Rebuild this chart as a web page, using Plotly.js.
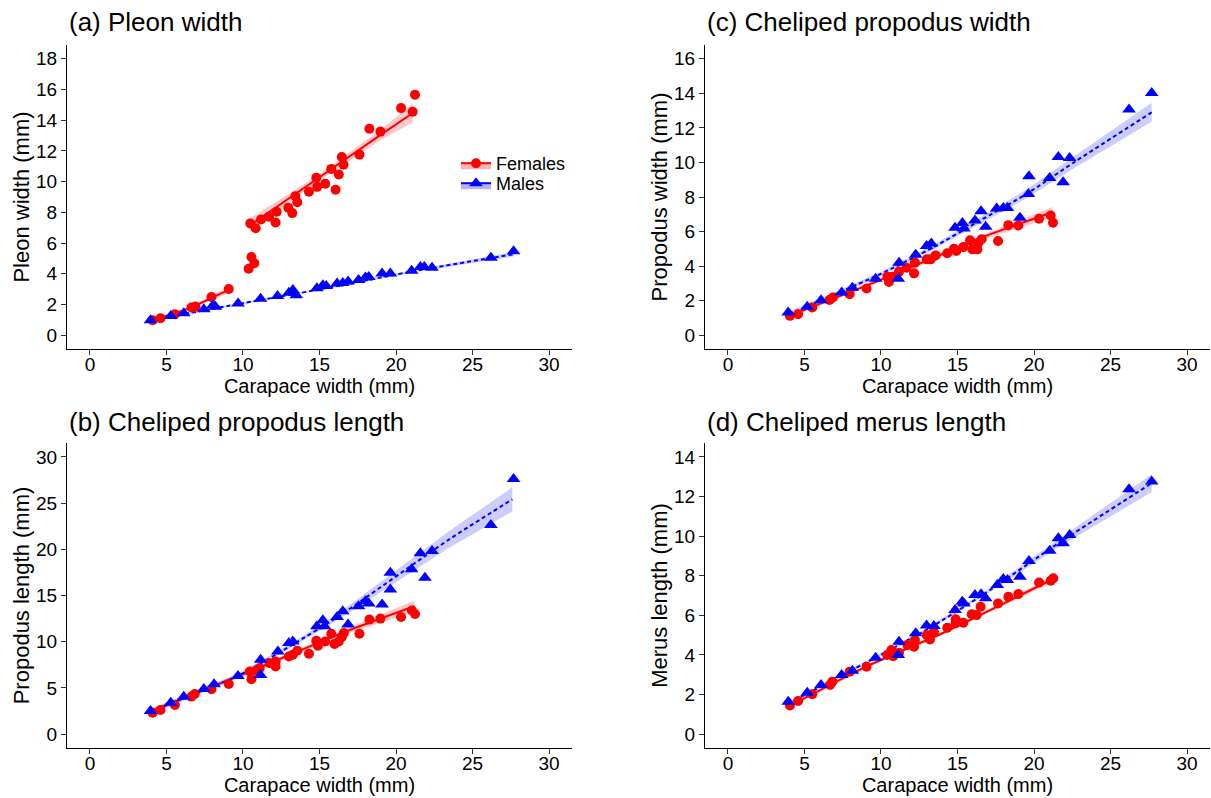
<!DOCTYPE html>
<html>
<head>
<meta charset="utf-8">
<script src="https://cdn.plot.ly/plotly-3.0.1.min.js"></script>
<style>html,body{margin:0;padding:0;background:#fff;}#chart{width:1211px;height:798px;}</style>
</head>
<body>
<div id="chart"></div>
<script>
// ---------- Panel (a) Pleon width ----------
const aFemX = [4.09,4.61,5.55,6.63,6.89,7.94,9.07,10.37,10.55,10.74,10.48,10.83,11.18,11.7,12.13,12.2,12.96,13.22,13.42,13.55,14.31,14.79,14.85,15.37,15.77,16.05,16.26,16.46,16.57,17.61,18.26,18.98,20.33,21.09,21.24];
const aFemY = [0.97,1.1,1.36,1.8,1.86,2.49,3.01,4.33,5.09,4.68,7.28,6.97,7.54,7.71,7.34,8.04,8.3,7.95,9.05,8.66,9.34,10.25,9.66,9.86,10.83,9.47,10.46,11.61,11.11,11.76,13.45,13.26,14.79,14.55,15.66];
const aMaleX = [3.96,5.28,6.13,7.44,8.04,8.2,9.68,11.15,12.26,13.0,13.26,13.48,14.83,15.22,15.44,16.15,16.52,16.87,17.55,18.0,18.22,19.09,19.63,21.02,21.59,21.85,22.35,26.2,27.68];
const aMaleY = [0.97,1.25,1.43,1.69,1.95,1.85,2.06,2.38,2.55,2.77,2.94,2.6,3.05,3.25,3.2,3.36,3.4,3.49,3.59,3.75,3.79,4.01,4.01,4.2,4.44,4.44,4.4,5.05,5.46];
const aFemFit1X = [4.05,6.5,9.05];
const aFemFit1Y = [0.95,1.76,2.95];
const aFemFit1CI = [0.12,0.08,0.22];
const aFemFit2X = [10.44,14.79,18.92,21.09];
const aFemFit2Y = [7.15,10.14,13.0,14.47];
const aFemFit2CI = [0.45,0.2,0.35,0.6];
const aMaleFitX = [3.96,10,15,21.6,27.68];
const aMaleFitY = [0.97,2.08,2.98,4.25,5.27];
const aMaleFitCI = [0.1,0.05,0.05,0.08,0.15];

// ---------- Panel (b) Cheliped propodus length ----------
const bFemX = [4.09,4.61,5.55,6.63,6.85,7.94,9.07,10.55,10.44,10.87,11.09,11.74,12.13,12.13,13.0,13.26,13.55,14.31,14.79,14.9,15.37,15.77,15.98,16.26,16.46,16.59,17.61,18.26,18.98,20.33,21.04,21.24];
const bFemY = [2.32,2.61,3.15,4.06,4.35,4.86,5.43,5.95,6.77,6.88,7.14,7.68,7.32,7.86,8.4,8.59,9.02,8.7,10.11,9.57,10.03,10.87,9.75,10.03,10.51,10.94,10.87,12.39,12.5,12.68,13.37,13.0];
const bMaleX = [3.96,5.28,6.13,7.44,8.11,9.67,11.15,11.15,12.28,13.0,13.26,14.83,15.22,15.33,16.15,16.52,16.87,17.55,18.0,18.22,19.09,19.63,19.63,21.02,21.59,21.89,22.35,26.2,27.68];
const bMaleY = [2.5,3.4,4.05,4.89,5.4,6.3,8.04,6.41,8.95,9.86,10.03,11.66,12.32,11.66,12.68,13.29,11.85,13.84,14.38,14.13,14.02,15.65,17.47,17.83,19.57,16.92,19.82,22.64,27.6];
const bFemFitX = [3.91,10.44,16.74,21.2];
const bFemFitY = [2.42,6.77,11.12,13.84];
const bFemFitCI = [0.25,0.2,0.3,0.6];
const bMaleFitX = [3.96,9.78,13.26,16.3,23.5,27.6];
const bMaleFitY = [2.45,6.4,9.7,12.8,21.1,25.4];
const bMaleFitCI = [0.3,0.25,0.25,0.35,0.9,1.3];

// ---------- Panel (c) Cheliped propodus width ----------
const cFemX = [4.05,4.58,5.51,6.64,6.86,7.95,9.06,10.52,10.41,10.74,11.18,11.66,12.16,12.22,12.99,13.25,13.57,14.33,14.77,14.92,15.38,15.82,15.97,16.3,16.36,16.58,17.65,18.32,18.97,20.33,21.09,21.24];
const cFemY = [1.12,1.21,1.6,2.04,2.18,2.37,2.7,3.08,3.39,3.39,3.68,3.91,3.58,4.2,4.39,4.39,4.62,4.74,5.01,4.87,5.1,5.49,4.97,4.97,5.35,5.55,5.45,6.37,6.35,6.74,6.93,6.51];
const cMaleX = [3.94,5.18,6.08,7.43,8.13,9.65,11.18,11.13,12.27,12.98,13.29,14.84,15.32,15.42,16.14,16.54,16.84,17.56,17.99,18.26,19.08,19.63,19.67,21.02,21.59,21.9,22.33,26.21,27.69];
const cMaleY = [1.31,1.64,2.02,2.47,2.75,3.27,4.2,3.27,4.66,5.16,5.31,6.22,6.5,6.18,6.64,7.18,6.28,7.34,7.37,7.37,6.8,8.18,9.2,9.1,10.31,8.86,10.26,13.06,14.02];
const cFemFitX = [4.0,10.52,16.84,21.2];
const cFemFitY = [1.12,3.39,5.74,7.12];
const cFemFitCI = [0.12,0.1,0.15,0.3];
const cMaleFitX = [3.94,9.87,13.36,16.4,19.46,22.72,27.69];
const cMaleFitY = [1.2,3.5,5.06,6.6,8.15,10.07,12.9];
const cMaleFitCI = [0.15,0.12,0.13,0.18,0.25,0.35,0.55];

// ---------- Panel (d) Cheliped merus length ----------
const dFemX = [4.05,4.58,5.51,6.67,6.82,7.95,9.06,10.41,10.68,10.8,11.18,11.72,12.16,12.22,12.99,13.2,13.46,14.33,14.88,14.88,15.38,15.93,16.25,16.51,17.65,18.32,18.97,20.33,21.09,21.26];
const dFemY = [1.45,1.67,2.02,2.48,2.65,3.15,3.4,4.0,4.25,3.94,4.11,4.5,4.41,4.75,5.0,4.78,5.17,5.37,5.8,5.6,5.62,6.05,6.01,6.43,6.6,6.94,7.07,7.66,7.75,7.87];
const dMaleX = [3.94,5.18,6.08,7.43,8.13,9.65,11.18,11.13,12.27,12.98,13.46,14.84,15.31,15.42,16.14,16.54,16.84,17.6,17.99,18.26,19.08,19.67,21.03,21.59,21.9,22.33,26.21,27.69];
const dMaleY = [1.63,2.09,2.48,2.98,3.2,3.86,4.67,4.0,5.09,5.48,5.46,6.27,6.69,6.6,7.02,7.06,6.86,7.53,7.83,7.78,7.95,8.74,9.26,9.89,9.64,10.06,12.36,12.75];
const dFemFitX = [3.99,9.0,14.23,21.2];
const dFemFitY = [1.41,3.4,5.17,7.82];
const dFemFitCI = [0.1,0.07,0.08,0.15];
const dMaleFitX = [3.94,9.65,13.14,16.62,21.6,27.69];
const dMaleFitY = [1.55,3.87,5.34,7.02,9.64,12.67];
const dMaleFitCI = [0.1,0.07,0.08,0.1,0.2,0.45];

// ---------- labels ----------
const panelTitles = ["(a) Pleon width", "(b) Cheliped propodus length", "(c) Cheliped propodus width", "(d) Cheliped merus length"];
const yTitles = ["Pleon width (mm)", "Propodus length (mm)", "Propodus width (mm)", "Merus length (mm)"];
const xTitle = "Carapace width (mm)";
const seriesNames = ["Females", "Males"];

const RED = "#FF0000", BLUE = "#0000FF";
const RED_FILL = "rgba(255,0,0,0.22)", BLUE_FILL = "rgba(0,0,255,0.2)";
const FONT = "Liberation Sans, Arial, Helvetica, sans-serif";

const traces = [];
function band(x, y, ci, fill, xa, ya) {
  const up = y.map((v, i) => v + ci[i]);
  const lo = y.map((v, i) => v - ci[i]);
  traces.push({x: x.concat(x.slice().reverse()), y: up.concat(lo.reverse()), xaxis: xa, yaxis: ya,
    type: "scatter", mode: "lines", fill: "toself", fillcolor: fill, line: {width: 0, color: "rgba(0,0,0,0)"},
    hoverinfo: "skip", showlegend: false});
}
function fitLine(x, y, color, dash, xa, ya) {
  traces.push({x: x, y: y, xaxis: xa, yaxis: ya, type: "scatter", mode: "lines",
    line: {color: color, width: 2, dash: dash, shape: "spline", smoothing: 0.6}, showlegend: false, hoverinfo: "skip"});
}
function pts(x, y, color, symbol, size, xa, ya) {
  traces.push({x: x, y: y, xaxis: xa, yaxis: ya, type: "scatter", mode: "markers",
    marker: {color: color, symbol: symbol, size: size, line: {width: 0}}, showlegend: false});
}
function panel(p, xa, ya) {
  p.fits.forEach(f => band(f[0], f[1], f[2], f[3], xa, ya));
  p.fits.forEach(f => fitLine(f[0], f[1], f[4], f[5], xa, ya));
  pts(p.fx, p.fy, RED, "circle", 10, xa, ya);
  pts(p.mx, p.my, BLUE, "triangle-up", 12, xa, ya);
}
panel({fx: aFemX, fy: aFemY, mx: aMaleX, my: aMaleY, fits: [
  [aFemFit1X, aFemFit1Y, aFemFit1CI, RED_FILL, RED, "solid"],
  [aFemFit2X, aFemFit2Y, aFemFit2CI, RED_FILL, RED, "solid"],
  [aMaleFitX, aMaleFitY, aMaleFitCI, BLUE_FILL, BLUE, "4px,3px"]]}, "x", "y");
panel({fx: bFemX, fy: bFemY, mx: bMaleX, my: bMaleY, fits: [
  [bFemFitX, bFemFitY, bFemFitCI, RED_FILL, RED, "solid"],
  [bMaleFitX, bMaleFitY, bMaleFitCI, BLUE_FILL, BLUE, "4px,3px"]]}, "x2", "y2");
panel({fx: cFemX, fy: cFemY, mx: cMaleX, my: cMaleY, fits: [
  [cFemFitX, cFemFitY, cFemFitCI, RED_FILL, RED, "solid"],
  [cMaleFitX, cMaleFitY, cMaleFitCI, BLUE_FILL, BLUE, "4px,3px"]]}, "x3", "y3");
panel({fx: dFemX, fy: dFemY, mx: dMaleX, my: dMaleY, fits: [
  [dFemFitX, dFemFitY, dFemFitCI, RED_FILL, RED, "solid"],
  [dMaleFitX, dMaleFitY, dMaleFitCI, BLUE_FILL, BLUE, "4px,3px"]]}, "x4", "y4");

// legend entries (two single-item legends, so the rows can sit close together)
traces.push({x: [null], y: [null], name: seriesNames[0], legend: "legend", type: "scatter", mode: "lines+markers", fill: "toself",
  fillcolor: "rgba(255,0,0,0.3)", line: {color: RED, width: 2}, marker: {color: RED, symbol: "circle", size: 10}, xaxis: "x", yaxis: "y"});
traces.push({x: [null], y: [null], name: seriesNames[1], legend: "legend2", type: "scatter", mode: "lines+markers", fill: "toself",
  fillcolor: "rgba(0,0,255,0.3)", line: {color: BLUE, width: 2}, marker: {color: BLUE, symbol: "triangle-up", size: 12}, xaxis: "x", yaxis: "y"});

const W = 1211, H = 798;
const colA = [67 / W, 572 / W], colB = [705 / W, 1210 / W];
const rowTop = [1 - 349 / H, 1 - 45 / H], rowBot = [1 - 748 / H, 1 - 443 / H];

function xax(domain, anchor) {
  return {domain: domain, anchor: anchor, range: [-1.5, 31.5], tickvals: [0,5,10,15,20,25,30],
    showline: true, linecolor: "#000", linewidth: 1, ticks: "outside", ticklen: 5, tickcolor: "#333", tickwidth: 1,
    ticklabelstandoff: -7,
    showgrid: false, zeroline: false, tickfont: {size: 19, color: "#000", family: FONT},
    title: {text: xTitle, font: {size: 20, color: "#000", family: FONT}, standoff: 0}};
}
function yax(domain, anchor, range, dtick, title) {
  return {domain: domain, anchor: anchor, range: range, dtick: dtick, tick0: 0,
    showline: true, linecolor: "#000", linewidth: 1, ticks: "outside", ticklen: 5, tickcolor: "#333", tickwidth: 1,
    showgrid: false, zeroline: false, tickfont: {size: 19, color: "#000", family: FONT},
    title: {text: title, font: {size: 22, color: "#000", family: FONT}, standoff: 0}};
}
function leg(topPx) {
  return {x: 456 / W, y: 1 - topPx / H, xanchor: "left", yanchor: "top", bgcolor: "rgba(0,0,0,0)",
    font: {size: 18, color: "#000", family: FONT}, itemwidth: 30, borderwidth: 0};
}

const layout = {
  width: W, height: H, margin: {l: 0, r: 0, t: 0, b: 0},
  paper_bgcolor: "#fff", plot_bgcolor: "#fff",
  font: {family: FONT, color: "#000"},
  showlegend: true,
  legend: leg(145), legend2: leg(165),
  xaxis: xax(colA, "y"), yaxis: yax(rowTop, "x", [-0.9, 18.9], 2, yTitles[0]),
  xaxis2: xax(colA, "y2"), yaxis2: yax(rowBot, "x2", [-1.5, 31.5], 5, yTitles[1]),
  xaxis3: xax(colB, "y3"), yaxis3: yax(rowTop, "x3", [-0.8, 16.8], 2, yTitles[2]),
  xaxis4: xax(colB, "y4"), yaxis4: yax(rowBot, "x4", [-0.7, 14.7], 2, yTitles[3]),
  annotations: [
    {text: panelTitles[0], x: colA[0], y: 1 - 22 / H},
    {text: panelTitles[1], x: colA[0], y: 1 - 422 / H},
    {text: panelTitles[2], x: colB[0], y: 1 - 22 / H},
    {text: panelTitles[3], x: colB[0], y: 1 - 422 / H}
  ].map(a => Object.assign(a, {xref: "paper", yref: "paper", xanchor: "left", yanchor: "middle", showarrow: false,
    font: {size: 26, color: "#000", family: FONT}}))
};

Plotly.newPlot("chart", traces, layout, {displayModeBar: false, staticPlot: true});
</script>
</body>
</html>
